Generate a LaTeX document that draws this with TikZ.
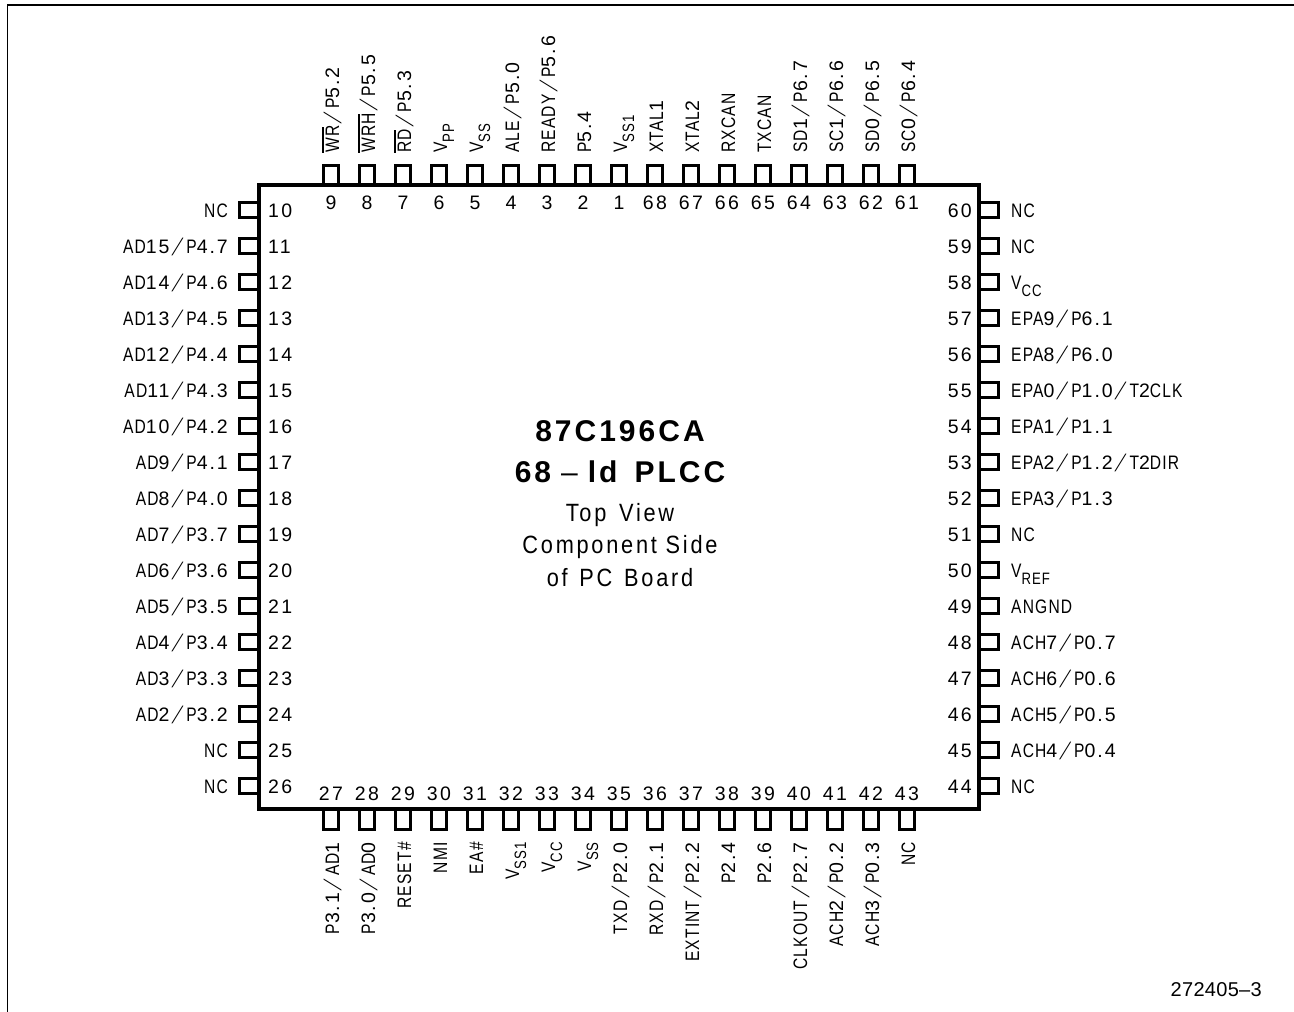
\documentclass[tikz,border=0pt]{standalone}
\usepackage{fontspec}
\usepackage{graphicx}
\setmainfont[LetterSpace=6,FakeStretch=0.8]{Liberation Sans}
\newfontfamily\titlefont[LetterSpace=10]{Liberation Sans}
\newfontfamily\subfont[LetterSpace=11,FakeStretch=0.87]{Liberation Sans}
\newfontfamily\numfont[LetterSpace=12]{Liberation Sans}
\newfontfamily\lnumfont[LetterSpace=10]{Liberation Sans}
\newfontfamily\capfont[LetterSpace=1.5]{Liberation Sans}
\newcommand{\dg}[1]{{\lnumfont #1}}
\newcommand{\lowtxt}[1]{\raisebox{-7pt}{\fontsize{16.5}{16.5}\selectfont #1}}
\newcommand{\barred}[1]{\leavevmode\vbox{\hrule height 1.3pt\kern 1.8pt\hbox{#1\kern-1pt}}\kern 1pt}
\newcommand{\sla}{\kern0.5pt\raisebox{2pt}{\scalebox{1.8}[1]{\fontfamily{lmr}\fontseries{m}\fontsize{18}{18}\selectfont /}}\kern1.5pt}
\tikzset{
 chip/.style={draw=black,line width=4pt,miter limit=10},
 pinbox/.style={draw=black,line width=3pt},
 lab/.style={inner sep=0pt,font=\fontsize{19.5}{22}\selectfont},
 num/.style={inner sep=0pt,font=\fontsize{19.5}{22}\selectfont\numfont,anchor=base},
 ttl/.style={inner sep=0pt,font=\fontsize{30}{32}\selectfont\titlefont\bfseries},
 sub/.style={inner sep=0pt,font=\fontsize{25}{28}\selectfont\subfont},
 frameline/.style={draw=black,line width=1.5pt}
}
\newcommand{\pinT}[3]{%
 \path[pinbox] ({331+36*#1-7.3},185) rectangle ({331+36*#1+7.3},165);
 \node[num] (nt#2) at ({331+36*#1},209) {#2};
 \node[lab,rotate=90,anchor=base west] (lt#2) at ({339+36*#1},153) {#3};}
\newcommand{\pinB}[3]{%
 \path[pinbox] ({331+36*#1-7.3},809) rectangle ({331+36*#1+7.3},829);
 \node[num] (nb#2) at ({331+36*#1},800.5) {#2};
 \node[lab,rotate=90,anchor=base east] (lb#2) at ({339+36*#1},842) {#3};}
\newcommand{\pinL}[3]{%
 \path[pinbox] (259,{210+36*#1-7.3}) rectangle (239.5,{210+36*#1+7.3});
 \node[num,anchor=base west] (nl#2) at (268,{217.5+36*#1}) {#2};
 \node[lab,anchor=base east] (ll#2) at (228,{217.5+36*#1}) {#3};}
\newcommand{\pinR}[3]{%
 \path[pinbox] (979,{210+36*#1-7.3}) rectangle (998.5,{210+36*#1+7.3});
 \node[num,anchor=base east] (nr#2) at (972,{217.5+36*#1}) {#2};
 \node[lab,anchor=base west] (lr#2) at (1011,{217.5+36*#1}) {#3};}
\begin{document}
\begin{tikzpicture}[x=1pt,y=-1pt]
\useasboundingbox (0,0) rectangle (1294,1012);
\draw[frameline] (7.5,1012) -- (7.5,5) -- (1294,5);
\pinT{0}{9}{\barred{WR}\sla P\dg{5.2}}
\pinT{1}{8}{\barred{WRH}\sla P\dg{5.5}}
\pinT{2}{7}{\barred{RD}\sla P\dg{5.3}}
\pinT{3}{6}{V\lowtxt{PP}}
\pinT{4}{5}{V\lowtxt{SS}}
\pinT{5}{4}{ALE\sla P\dg{5.0}}
\pinT{6}{3}{READY\sla P\dg{5.6}}
\pinT{7}{2}{P\dg{5.4}}
\pinT{8}{1}{V\lowtxt{SS1}}
\pinT{9}{68}{XTAL\dg{1}}
\pinT{10}{67}{XTAL\dg{2}}
\pinT{11}{66}{RXCAN}
\pinT{12}{65}{TXCAN}
\pinT{13}{64}{SD\dg{1}\sla P\dg{6.7}}
\pinT{14}{63}{SC\dg{1}\sla P\dg{6.6}}
\pinT{15}{62}{SD\dg{0}\sla P\dg{6.5}}
\pinT{16}{61}{SC\dg{0}\sla P\dg{6.4}}
\pinB{0}{27}{P\dg{3.1}\sla AD\dg{1}}
\pinB{1}{28}{P\dg{3.0}\sla AD\dg{0}}
\pinB{2}{29}{RESET\#}
\pinB{3}{30}{NMI}
\pinB{4}{31}{EA\#}
\pinB{5}{32}{V\lowtxt{SS1}}
\pinB{6}{33}{V\lowtxt{CC}}
\pinB{7}{34}{V\lowtxt{SS}}
\pinB{8}{35}{TXD\sla P\dg{2.0}}
\pinB{9}{36}{RXD\sla P\dg{2.1}}
\pinB{10}{37}{EXTINT\sla P\dg{2.2}}
\pinB{11}{38}{P\dg{2.4}}
\pinB{12}{39}{P\dg{2.6}}
\pinB{13}{40}{CLKOUT\sla P\dg{2.7}}
\pinB{14}{41}{ACH\dg{2}\sla P\dg{0.2}}
\pinB{15}{42}{ACH\dg{3}\sla P\dg{0.3}}
\pinB{16}{43}{NC}
\pinL{0}{10}{NC}
\pinL{1}{11}{AD\dg{15}\sla P\dg{4.7}}
\pinL{2}{12}{AD\dg{14}\sla P\dg{4.6}}
\pinL{3}{13}{AD\dg{13}\sla P\dg{4.5}}
\pinL{4}{14}{AD\dg{12}\sla P\dg{4.4}}
\pinL{5}{15}{AD\dg{11}\sla P\dg{4.3}}
\pinL{6}{16}{AD\dg{10}\sla P\dg{4.2}}
\pinL{7}{17}{AD\dg{9}\sla P\dg{4.1}}
\pinL{8}{18}{AD\dg{8}\sla P\dg{4.0}}
\pinL{9}{19}{AD\dg{7}\sla P\dg{3.7}}
\pinL{10}{20}{AD\dg{6}\sla P\dg{3.6}}
\pinL{11}{21}{AD\dg{5}\sla P\dg{3.5}}
\pinL{12}{22}{AD\dg{4}\sla P\dg{3.4}}
\pinL{13}{23}{AD\dg{3}\sla P\dg{3.3}}
\pinL{14}{24}{AD\dg{2}\sla P\dg{3.2}}
\pinL{15}{25}{NC}
\pinL{16}{26}{NC}
\pinR{0}{60}{NC}
\pinR{1}{59}{NC}
\pinR{2}{58}{V\lowtxt{CC}}
\pinR{3}{57}{EPA\dg{9}\sla P\dg{6.1}}
\pinR{4}{56}{EPA\dg{8}\sla P\dg{6.0}}
\pinR{5}{55}{EPA\dg{0}\sla P\dg{1.0}\sla T\dg{2}CLK}
\pinR{6}{54}{EPA\dg{1}\sla P\dg{1.1}}
\pinR{7}{53}{EPA\dg{2}\sla P\dg{1.2}\sla T\dg{2}DIR}
\pinR{8}{52}{EPA\dg{3}\sla P\dg{1.3}}
\pinR{9}{51}{NC}
\pinR{10}{50}{V\lowtxt{REF}}
\pinR{11}{49}{ANGND}
\pinR{12}{48}{ACH\dg{7}\sla P\dg{0.7}}
\pinR{13}{47}{ACH\dg{6}\sla P\dg{0.6}}
\pinR{14}{46}{ACH\dg{5}\sla P\dg{0.5}}
\pinR{15}{45}{ACH\dg{4}\sla P\dg{0.4}}
\pinR{16}{44}{NC}
\path[chip] (259,185) rectangle (979,809);
\node[ttl,anchor=base] (t1) at (620,441.7) {87C196CA};
\node[ttl,anchor=base] (t2) at (620,482.7) {68\kern10pt{\mdseries\capfont\fontsize{30}{32}\selectfont –}\kern10pt ld\kern17pt PLCC};
\node[sub,anchor=base] (s1) at (620,521.7) {Top\kern4pt{} View};
\node[sub,anchor=base] (s2) at (620,553) {Component Side};
\node[sub,anchor=base] (s3) at (620,586.7) {of\kern3pt{} PC\kern3pt{} Board};
\node[inner sep=0pt,anchor=base east,font=\fontsize{20}{22}\selectfont\capfont] (fig) at (1262,996) {272405–3};
\end{tikzpicture}
\end{document}
